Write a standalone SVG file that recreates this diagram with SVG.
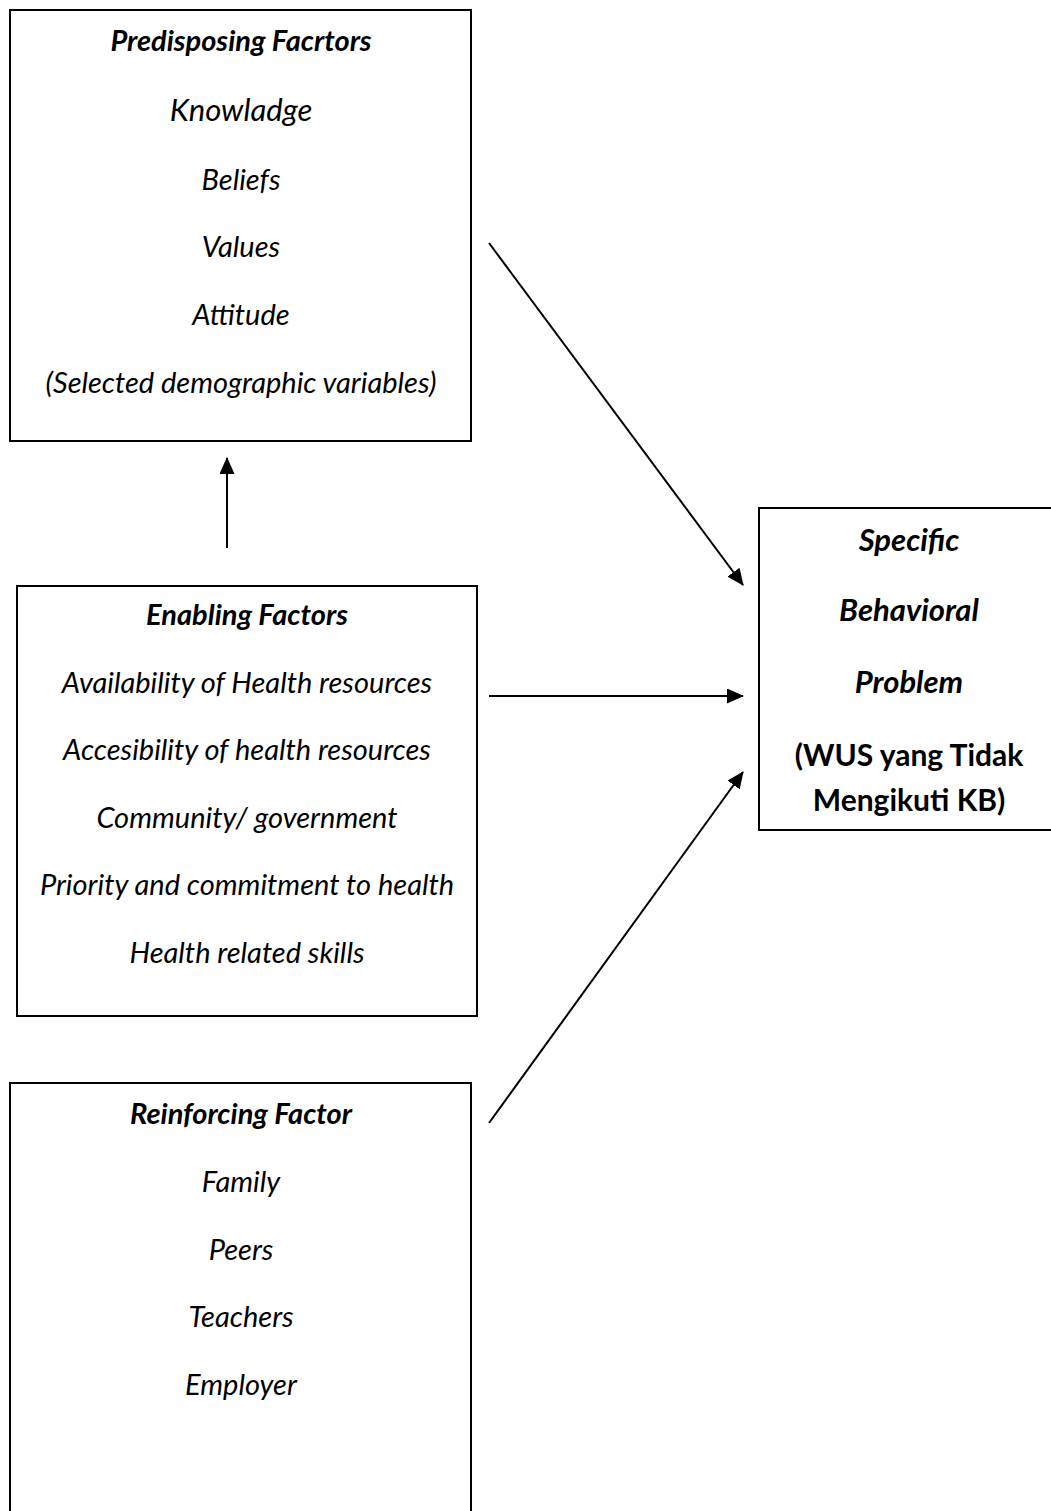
<svg xmlns="http://www.w3.org/2000/svg" width="1051" height="1511" viewBox="0 0 1051 1511">
<style>
.box{fill:#fff;stroke:#000;stroke-width:2}
.t{font-family:Lato,"Open Sans","Liberation Sans",sans-serif;font-style:italic;font-size:29px;text-anchor:middle;fill:#000}
.h{font-weight:bold}
.b{font-family:Lato,"Open Sans","Liberation Sans",sans-serif;font-weight:bold;font-size:30px;text-anchor:middle;fill:#000}
.c{stroke:#000;stroke-width:2;fill:none;marker-end:url(#ah)}
</style>
<defs>
<marker id="ah" markerUnits="userSpaceOnUse" markerWidth="17" markerHeight="15" refX="16" refY="7.5" orient="auto">
<path d="M0,0 L17,7.5 L0,15 z" fill="#000"/>
</marker>
</defs>
<rect x="0" y="0" width="1051" height="1511" fill="#fff"/>
<g id="predisposing">
<rect class="box" x="10" y="10" width="461" height="431"/>
<text class="t h" x="241" y="51">Predisposing Facrtors</text>
<text class="t" x="241" y="121" style="font-size:31px">Knowladge</text>
<text class="t" x="241" y="190">Beliefs</text>
<text class="t" x="241" y="257">Values</text>
<text class="t" x="241" y="325">Attitude</text>
<text class="t" x="241" y="393">(Selected demographic variables)</text>
</g>
<g id="enabling">
<rect class="box" x="17" y="586" width="460" height="430"/>
<text class="t h" x="247" y="625">Enabling Factors</text>
<text class="t" x="247" y="693">Availability of Health resources</text>
<text class="t" x="247" y="760">Accesibility of health resources</text>
<text class="t" x="247" y="828">Community/ government</text>
<text class="t" x="247" y="895">Priority and commitment to health</text>
<text class="t" x="247" y="963">Health related skills</text>
</g>
<g id="reinforcing">
<rect class="box" x="10" y="1083" width="461" height="440"/>
<text class="t h" x="241" y="1124">Reinforcing Factor</text>
<text class="t" x="241" y="1192">Family</text>
<text class="t" x="241" y="1260">Peers</text>
<text class="t" x="241" y="1327">Teachers</text>
<text class="t" x="241" y="1395">Employer</text>
</g>
<g id="behavior">
<rect class="box" x="759" y="508" width="300" height="322"/>
<text class="t h" x="909" y="551" style="font-size:31px">Specific</text>
<text class="t h" x="909" y="621" style="font-size:31px">Behavioral</text>
<text class="t h" x="909" y="693" style="font-size:31px">Problem</text>
<text class="b" x="909" y="766">(WUS yang Tidak</text>
<text class="b" x="909" y="811">Mengikuti KB)</text>
</g>
<g id="connectors">
<line class="c" x1="227" y1="548" x2="227" y2="458"/>
<line class="c" x1="489" y1="243" x2="743" y2="585"/>
<line class="c" x1="489" y1="696" x2="743" y2="696"/>
<line class="c" x1="489" y1="1123" x2="743" y2="772"/>
</g>
</svg>
